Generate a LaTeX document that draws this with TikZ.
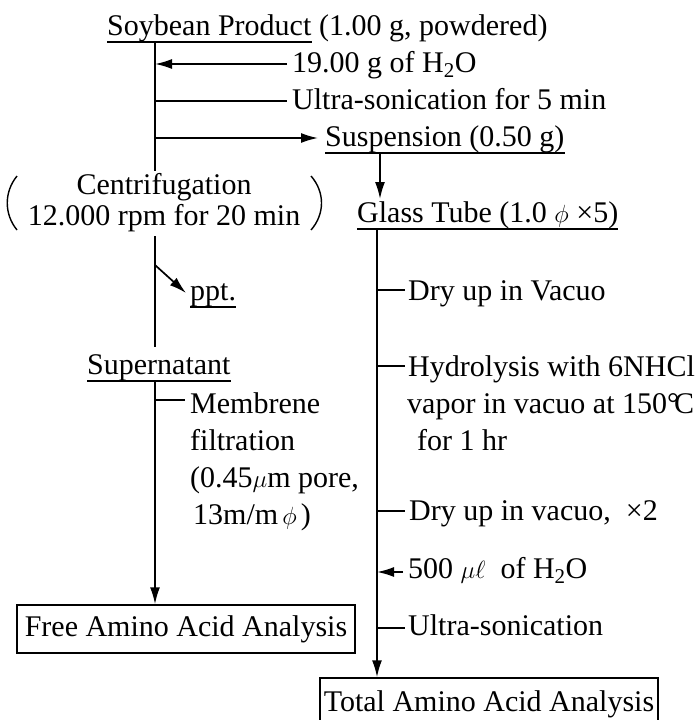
\documentclass[tikz,border=0pt]{standalone}
\usepackage{fontspec}
\setmainfont{Liberation Serif}
\usetikzlibrary{arrows.meta}
\begin{document}
\begin{tikzpicture}[x=1pt,y=-1pt,
  every node/.style={inner sep=0pt, font=\fontsize{30}{36}\selectfont},
  lbl/.style={anchor=base west},
  ul/.style={anchor=base west, text depth=7pt},
  ln/.style={line width=1.7pt},
  arr/.style={line width=1.7pt, -{Latex[length=17pt,width=10pt]}},
  box/.style={draw, line width=1.5pt, minimum width=338pt, minimum height=48pt}]
\useasboundingbox (0,0) rectangle (696,720);

% ---- title and left trunk ----
\node[ul] (soy) at (107,35) {Soybean Product};
\node[lbl] (soyb) at ([xshift=7.5pt]soy.base east) {(1.00 g, powdered)};
\draw[ln] (soy.south west) -- (soy.south east);

\coordinate (L0) at (155,42);
\coordinate (Lbr) at (155,171);
\coordinate (Lbr2) at (155,236);
\coordinate (Lend) at (155,347);
\draw[ln] (L0) -- (Lbr);
\draw[ln] (Lbr2) -- (Lend);

\node[lbl] (h2o) at (292,72) {19.00 g of H\textsubscript{2}O};
\coordinate (a1) at (287,64);
\draw[arr] (a1) -- (a1 -| L0);

\node[lbl] (us1) at (292,109) {Ultra-sonication for 5 min};
\coordinate (a2) at (287,101);
\draw[ln] (a2 -| L0) -- (a2);

\node[ul] (susp) at (325,146) {Suspension (0.50 g)};
\draw[ln] (susp.south west) -- (susp.south east);
\coordinate (a3) at (318,138);
\draw[arr] (a3 -| L0) -- (a3);

% ---- centrifugation ----
\node[anchor=base, text depth=2pt] (cen1) at (164,194) {Centrifugation};
\node[anchor=base, text height=18pt] (cen2) at (164,225) {12.000 rpm for 20 min};
\draw[line width=1.4pt] (17,176) .. controls (4,192) and (4,214) .. (17,230);
\draw[line width=1.4pt] (311,176) .. controls (325,192) and (325,214) .. (311,230);

% ---- glass tube branch ----
\node[ul] (glass) at (357,222) {Glass Tube (1.0 $\phi$ ×5)};
\draw[ln] (glass.south west) -- (glass.south east);
\coordinate (d0) at (380,154);
\coordinate (d1) at (380,199);
\draw[arr] (d0) -- (d1);

\node[box, minimum height=52pt] (total) at (489,704) {Total Amino Acid Analysis};
\coordinate (G0) at (377,230);
\draw[arr] (G0) -- (G0 |- total.north);

\coordinate (t1) at (405,290);
\draw[ln] (t1 -| G0) -- (t1);
\node[lbl] (dry1) at (408,300) {Dry up in Vacuo};

\coordinate (t2) at (405,366);
\draw[ln] (t2 -| G0) -- (t2);
\node[lbl] (hyd1) at (408,376) {Hydrolysis with 6NHCl};
\node[lbl] (hyd2) at (407,413) {vapor in vacuo at 150°\kern-5pt C};
\node[lbl] (hyd3) at (417,450) {for 1 hr};

\coordinate (t3) at (405,511);
\draw[ln] (t3 -| G0) -- (t3);
\node[lbl] (dry2) at (409,520) {Dry up in vacuo,\ \ ×2};

\coordinate (t4) at (403,572);
\draw[arr] (t4) -- (t4 -| G0);
\node[lbl] (w500) at (408,578) {500 $\mu\ell$\ \ of H\textsubscript{2}O};

\coordinate (t5) at (405,628);
\draw[ln] (t5 -| G0) -- (t5);
\node[lbl] (us2) at (408,635) {Ultra-sonication};

% ---- left branch ----
\coordinate (p0) at (155,265);
\coordinate (p1) at (186,293);
\draw[arr] (p0) -- (p1);
\node[ul] (ppt) at (190,300) {ppt.};
\draw[ln] (ppt.south west) -- (ppt.south east);

\node[ul] (sup) at (87,374) {Supernatant};
\draw[ln] (sup.south west) -- (sup.south east);

\node[box] (free) at (186,629) {Free Amino Acid Analysis};
\coordinate (S0) at (155,381);
\draw[arr] (S0) -- (S0 |- free.north);

\coordinate (m0) at (185,400);
\draw[ln] (m0 -| S0) -- (m0);
\node[lbl] (m1) at (190,413) {Membrene};
\node[lbl] (m2) at (190,450) {filtration};
\node[lbl] (m3) at (190,487) {(0.45$\mu$m pore,};
\node[lbl] (m4) at (193,524) {13m/m$\,\phi\,$)};
\end{tikzpicture}
\end{document}
